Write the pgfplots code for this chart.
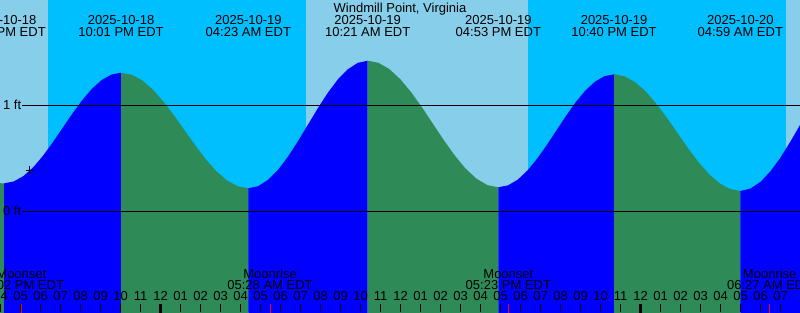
\documentclass[border=0pt]{standalone}
\usepackage{pgfplots}
\pgfplotsset{compat=1.18}
\usepackage{fontspec}
\setmainfont{Liberation Sans}
\definecolor{daysky}{RGB}{135,206,235}
\definecolor{nightsky}{RGB}{0,191,255}
\definecolor{flood}{RGB}{0,0,255}
\definecolor{ebb}{RGB}{46,139,87}
\newcommand\lbl{\fontsize{6.5}{6}\selectfont}
\begin{document}
\begin{tikzpicture}
\begin{axis}[
  at={(0,0)}, anchor=south west,
  scale only axis, width=400pt, height=156pt,
  xmin=-8.035, xmax=31.965, ymin=-0.953, ymax=1.991,
  axis background/.style={fill=nightsky},
  axis x line*=bottom, axis y line=none,
  x axis line style={draw=none},
  axis on top,
  tick align=inside, major tick length=4pt,
  xtick={-8,-7,-6,-5,-4,-3,-2,-1,0,1,2,3,4,5,6,7,8,9,10,11,12,13,14,15,16,17,18,19,20,21,22,23,24,25,26,27,28,29,30,31},
  xticklabels={04,05,06,07,08,09,10,11,12,01,02,03,04,05,06,07,08,09,10,11,12,01,02,03,04,05,06,07,08,09,10,11,12,01,02,03,04,05,06,07},
  xtick style={black, line width=0.5pt},
  xticklabel style={font=\lbl, anchor=base, yshift=5.65pt, inner sep=0pt},
  ytick=\empty,
]
% daytime sky
\addplot[fill=daysky, draw=none] coordinates {(-8.2,-1) (-8.2,2.1) (-5.62,2.1) (-5.62,-1)};
\addplot[fill=daysky, draw=none] coordinates {(7.265,-1) (7.265,2.1) (18.38,2.1) (18.38,-1)};
\addplot[fill=daysky, draw=none] coordinates {(31.265,-1) (31.265,2.1) (32.1,2.1) (32.1,-1)};
% tide: falling before first low
\addplot[fill=ebb, draw=none] coordinates {(-8.2,-1) (-8.2,0.263) (-7.83,0.261) (-7.83,-1)};
% rising
\addplot[fill=flood, draw=none] coordinates {(-7.83,-1) (-7.830,0.261) (-7.343,0.279) (-6.855,0.331) (-6.368,0.414) (-5.881,0.522) (-5.394,0.648) (-4.907,0.783) (-4.419,0.918) (-3.932,1.044) (-3.445,1.152) (-2.958,1.235) (-2.470,1.287) (-1.983,1.305) (-1.983,-1)};
% falling
\addplot[fill=ebb, draw=none] coordinates {(-1.983,-1) (-1.983,1.305) (-1.453,1.286) (-0.922,1.232) (-0.392,1.145) (0.139,1.032) (0.670,0.901) (1.200,0.760) (1.731,0.618) (2.261,0.487) (2.792,0.374) (3.322,0.287) (3.853,0.233) (4.383,0.214) (4.383,-1)};
% rising
\addplot[fill=flood, draw=none] coordinates {(4.383,-1) (4.383,0.214) (4.880,0.235) (5.378,0.295) (5.875,0.390) (6.372,0.515) (6.869,0.660) (7.367,0.816) (7.864,0.972) (8.361,1.117) (8.858,1.242) (9.356,1.337) (9.853,1.398) (10.350,1.418) (10.350,-1)};
% falling
\addplot[fill=ebb, draw=none] coordinates {(10.350,-1) (10.350,1.418) (10.894,1.398) (11.439,1.338) (11.983,1.243) (12.528,1.120) (13.072,0.976) (13.617,0.821) (14.161,0.667) (14.705,0.523) (15.250,0.399) (15.794,0.304) (16.339,0.244) (16.883,0.224) (16.883,-1)};
% rising
\addplot[fill=flood, draw=none] coordinates {(16.883,-1) (16.883,0.224) (17.365,0.242) (17.847,0.295) (18.329,0.380) (18.811,0.491) (19.293,0.619) (19.775,0.757) (20.257,0.895) (20.739,1.024) (21.221,1.134) (21.703,1.219) (22.185,1.272) (22.667,1.290) (22.667,-1)};
% falling
\addplot[fill=ebb, draw=none] coordinates {(22.667,-1) (22.667,1.290) (23.193,1.271) (23.720,1.216) (24.246,1.129) (24.772,1.015) (25.299,0.882) (25.825,0.740) (26.351,0.597) (26.878,0.464) (27.404,0.350) (27.930,0.263) (28.457,0.208) (28.983,0.189) (28.983,-1)};
% rising
\addplot[fill=flood, draw=none] coordinates {(28.983,-1) (28.983,0.189) (29.484,0.211) (29.986,0.274) (30.487,0.374) (30.989,0.504) (31.490,0.656) (31.991,0.820) (31.991,-1)};
% datum lines
\addplot[black, line width=0.5pt] coordinates {(-6.935,1) (32.1,1)};
\addplot[black, line width=0.5pt] coordinates {(-6.935,0) (32.1,0)};
% current mark
\addplot[black, only marks, mark=+, mark size=2.1pt, line width=0.5pt] coordinates {(-6.535,0.382)};
% midnight ticks
\addplot[black, line width=1.5pt] coordinates {(0,-1) (0,-0.878)};
\addplot[black, line width=1.5pt] coordinates {(24,-1) (24,-0.878)};
% moon ticks
\addplot[red, line width=0.5pt] coordinates {(-6.967,-1) (-6.967,-0.878)};
\addplot[red, line width=0.5pt] coordinates {(5.467,-1) (5.467,-0.878)};
\addplot[red, line width=0.5pt] coordinates {(17.383,-1) (17.383,-0.878)};
\addplot[red, line width=0.5pt] coordinates {(30.45,-1) (30.45,-0.878)};
% labels
\tikzset{lb/.style={font=\lbl, anchor=base, inner sep=0pt, text=black}}
\node[lb, anchor=base west] at (axis cs:-7.9,0.957) {1 ft};
\node[lb, anchor=base west] at (axis cs:-7.9,-0.043) {0 ft};
\node[lb] at (axis cs:11.965,1.877) {Windmill Point, Virginia};
\node[lb] at (axis cs:-7.88,1.764) {2025-10-18};
\node[lb] at (axis cs:-7.88,1.651) {04:07 PM EDT};
\node[lb] at (axis cs:-1.983,1.764) {2025-10-18};
\node[lb] at (axis cs:-1.983,1.651) {10:01 PM EDT};
\node[lb] at (axis cs:4.383,1.764) {2025-10-19};
\node[lb] at (axis cs:4.383,1.651) {04:23 AM EDT};
\node[lb] at (axis cs:10.35,1.764) {2025-10-19};
\node[lb] at (axis cs:10.35,1.651) {10:21 AM EDT};
\node[lb] at (axis cs:16.883,1.764) {2025-10-19};
\node[lb] at (axis cs:16.883,1.651) {04:53 PM EDT};
\node[lb] at (axis cs:22.667,1.764) {2025-10-19};
\node[lb] at (axis cs:22.667,1.651) {10:40 PM EDT};
\node[lb] at (axis cs:28.983,1.764) {2025-10-20};
\node[lb] at (axis cs:28.983,1.651) {04:59 AM EDT};
\node[lb] at (axis cs:-6.967,-0.635) {Moonset};
\node[lb] at (axis cs:-6.967,-0.739) {05:02 PM EDT};
\node[lb] at (axis cs:5.467,-0.635) {Moonrise};
\node[lb] at (axis cs:5.467,-0.739) {05:28 AM EDT};
\node[lb] at (axis cs:17.383,-0.635) {Moonset};
\node[lb] at (axis cs:17.383,-0.739) {05:23 PM EDT};
\node[lb] at (axis cs:30.45,-0.635) {Moonrise};
\node[lb] at (axis cs:30.45,-0.739) {06:27 AM EDT};
\end{axis}
\pgfresetboundingbox
\path[use as bounding box] (current axis.south west) rectangle (current axis.north east);
\end{tikzpicture}
\end{document}
